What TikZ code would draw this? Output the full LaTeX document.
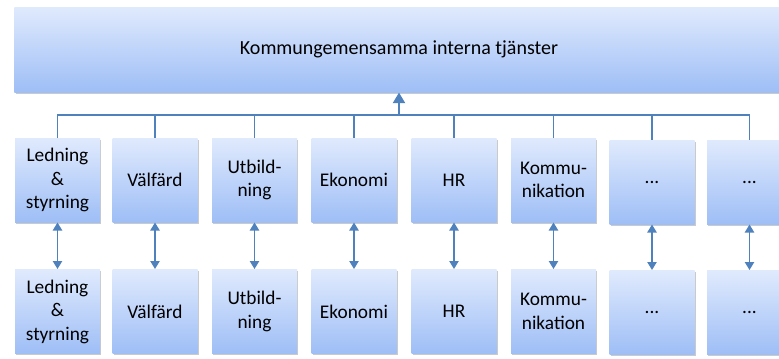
\documentclass[tikz,border=0pt]{standalone}
\usepackage{fontspec}
\setmainfont{Carlito}
\usepackage{tikz}
\usetikzlibrary{arrows.meta,shadows}
\tikzset{every picture/.style={line width=0.75pt}}
\definecolor{boxtop}{RGB}{224,234,253}
\definecolor{boxbot}{RGB}{158,190,246}
\definecolor{linkblue}{RGB}{79,129,189}
\tikzset{
  unitbox/.style={minimum width=63.75pt,minimum height=63pt,inner sep=1pt,align=center,
    top color=boxtop,bottom color=boxbot,draw=none,font=\fontsize{14.5}{17.6}\selectfont,
    drop shadow={shadow xshift=0.9pt,shadow yshift=-1.3pt,opacity=0.35,fill=black!60}},
  topbox/.style={unitbox,minimum width=577pt,minimum height=63.75pt,font=\fontsize{15}{18}\selectfont},
  tree/.style={draw=linkblue,line width=0.9pt},
  uparrow/.style={draw=linkblue,line width=1.6pt,-{Triangle[width=9pt,length=8pt]}},
  twoway/.style={draw=linkblue,line width=0.9pt,{Triangle[width=7pt,length=6pt]}-{Triangle[width=7pt,length=6pt]}}
}

\begin{document}
\begin{tikzpicture}[x=0.75pt,y=0.75pt,yscale=-1,xscale=1]
		\useasboundingbox (0,0) rectangle (779,358);
		
		% Text Node
		\node [topbox] (shared) at (399,49.5) {Kommungemensamma interna tj\"anster};
		
		% upper row
		\node [unitbox] (up1) at (57.5,180) {Ledning\\\&\\styrning};
		\node [unitbox] (up2) at (155,180) {V\"alf\"ard};
		\node [unitbox] (up3) at (254.5,180) {Utbild-\\ning};
		\node [unitbox] (up4) at (354,180) {Ekonomi};
		\node [unitbox] (up5) at (454,180) {HR};
		\node [unitbox] (up6) at (553.5,180) {Kommu-\\nikation};
		\node [unitbox] (up7) at (652,182) {...};
		\node [unitbox] (up8) at (749.5,182) {...};
		
		% lower row
		\node [unitbox] (lo1) at (57.5,311.5) {Ledning\\\&\\styrning};
		\node [unitbox] (lo2) at (155,311.5) {V\"alf\"ard};
		\node [unitbox] (lo3) at (254.5,311.5) {Utbild-\\ning};
		\node [unitbox] (lo4) at (354,311.5) {Ekonomi};
		\node [unitbox] (lo5) at (454,311.5) {HR};
		\node [unitbox] (lo6) at (553.5,311.5) {Kommu-\\nikation};
		\node [unitbox] (lo7) at (652,312.5) {...};
		\node [unitbox] (lo8) at (749.5,312.5) {...};
		
		% tree up to the shared box
		\coordinate (bus) at (399,115);
		\draw [tree] (up1.north) |- (bus);
		\draw [tree] (up2.north) |- (bus);
		\draw [tree] (up3.north) |- (bus);
		\draw [tree] (up4.north) |- (bus);
		\draw [tree] (up5.north) |- (bus);
		\draw [tree] (up6.north) |- (bus);
		\draw [tree] (up7.north) |- (bus);
		\draw [tree] (up8.north) |- (bus);
		\draw [uparrow] (bus) -- (shared.south -| bus);
		
		% links between the rows
		\draw [twoway] (up1.south) -- (lo1.north);
		\draw [twoway] (up2.south) -- (lo2.north);
		\draw [twoway] (up3.south) -- (lo3.north);
		\draw [twoway] (up4.south) -- (lo4.north);
		\draw [twoway] (up5.south) -- (lo5.north);
		\draw [twoway] (up6.south) -- (lo6.north);
		\draw [twoway] (up7.south) -- (lo7.north);
		\draw [twoway] (up8.south) -- (lo8.north);
		
		\end{tikzpicture}
\end{document}
